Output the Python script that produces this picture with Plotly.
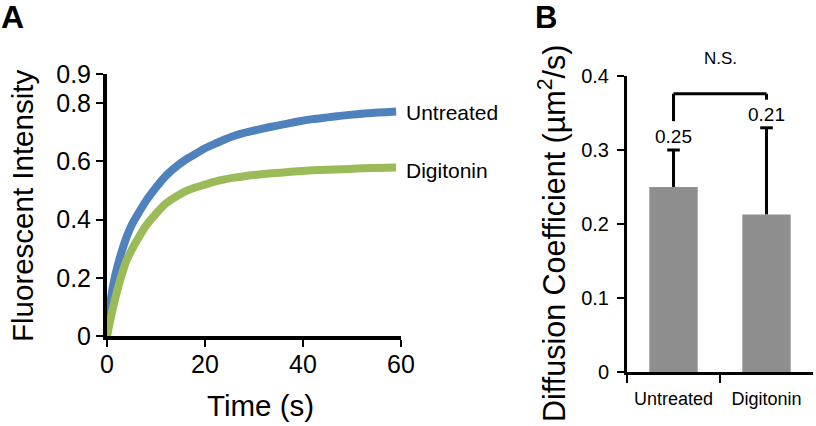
import plotly.graph_objects as go

# ---------------- data ----------------
time_s = [0, 1, 2, 3, 4, 5, 6, 8, 10, 12, 14, 16, 18, 20, 22, 24, 26, 28, 30,
          33, 36, 39, 42, 45, 48, 51, 54, 57, 59]
untreated = [0, 0.15, 0.23, 0.29, 0.34, 0.38, 0.41, 0.465, 0.51, 0.55, 0.58,
             0.605, 0.625, 0.645, 0.66, 0.675, 0.688, 0.698, 0.706, 0.717,
             0.727, 0.737, 0.745, 0.751, 0.757, 0.762, 0.766, 0.769, 0.771]
digitonin = [0, 0.08, 0.15, 0.21, 0.26, 0.295, 0.325, 0.38, 0.42, 0.455, 0.478,
             0.497, 0.51, 0.52, 0.53, 0.538, 0.544, 0.549, 0.553, 0.558, 0.562,
             0.566, 0.569, 0.571, 0.573, 0.575, 0.577, 0.578, 0.579]

a_yticks = [0, 0.2, 0.4, 0.6, 0.8, 0.9]
a_xticks = [0, 20, 40, 60]

categories = ["Untreated", "Digitonin"]
diff_coef = [0.25, 0.213]
diff_err = [0.05, 0.117]
b_yticks = [0, 0.1, 0.2, 0.3, 0.4]

FONT = "Liberation Sans, Arial, sans-serif"
BLUE = "#4F81BD"
GREEN = "#9BBB59"
W, H = 816, 426


def px(x):
    return x / W


def py(y):
    return 1 - y / H


fig = go.Figure()

# Panel A curves
fig.add_trace(go.Scatter(x=time_s, y=untreated, mode="lines",
                         line=dict(color=BLUE, width=8, shape="spline", smoothing=0.8),
                         xaxis="x", yaxis="y", showlegend=False, cliponaxis=False))
fig.add_trace(go.Scatter(x=time_s, y=digitonin, mode="lines",
                         line=dict(color=GREEN, width=8, shape="spline", smoothing=0.8),
                         xaxis="x", yaxis="y", showlegend=False, cliponaxis=False))

# Panel B bars with upward-only error bars
fig.add_trace(go.Bar(x=categories, y=diff_coef, marker=dict(color="#8E8E8E", line=dict(width=0)),
                     error_y=dict(type="data", array=diff_err,
                                  arrayminus=[0 for _ in diff_err], symmetric=False,
                                  color="black", thickness=3, width=0),
                     xaxis="x2", yaxis="y2", showlegend=False))
# caps only at the top of each error bar
fig.add_trace(go.Scatter(x=categories, y=[v + e for v, e in zip(diff_coef, diff_err)],
                         mode="markers",
                         marker=dict(symbol="line-ew", size=9,
                                     line=dict(color="black", width=3)),
                         xaxis="x2", yaxis="y2", showlegend=False, hoverinfo="skip",
                         cliponaxis=False))

annotations = []
# curve labels
annotations.append(dict(x=time_s[-1], y=untreated[-1], xref="x", yref="y",
                        text="Untreated", showarrow=False, xanchor="left",
                        yanchor="middle", xshift=8, yshift=-1,
                        font=dict(family=FONT, size=21, color="black")))
annotations.append(dict(x=time_s[-1], y=digitonin[-1], xref="x", yref="y",
                        text="Digitonin", showarrow=False, xanchor="left",
                        yanchor="middle", xshift=8, yshift=-3,
                        font=dict(family=FONT, size=21, color="black")))
# value labels
for i, (c, v, e) in enumerate(zip(categories, diff_coef, diff_err)):
    annotations.append(dict(x=i, y=v + e, xref="x2", yref="y2",
                            text=f"{v:.2f}", showarrow=False,
                            xanchor="center", yanchor="bottom", yshift=1,
                            font=dict(family=FONT, size=19, color="black")))
# N.S.
annotations.append(dict(x=0.5, y=(372 - 58) / 296, xref="x2", yref="y2 domain", text="N.S.",
                        showarrow=False, xanchor="center", yanchor="middle",
                        font=dict(family=FONT, size=17, color="black")))
# axis titles
annotations.append(dict(x=px(22), y=py(206), xref="paper", yref="paper",
                        text="Fluorescent Intensity", textangle=-90,
                        showarrow=False, xanchor="center", yanchor="middle",
                        font=dict(family=FONT, size=29.5, color="black")))
annotations.append(dict(x=px(260), y=py(405), xref="paper", yref="paper",
                        text="Time (s)", showarrow=False,
                        xanchor="center", yanchor="middle",
                        font=dict(family=FONT, size=29.5, color="black")))
annotations.append(dict(x=px(552), y=py(233), xref="paper", yref="paper",
                        text="Diffusion Coefficient (µm<sup>2</sup>/s)", textangle=-90,
                        showarrow=False, xanchor="center", yanchor="middle",
                        font=dict(family=FONT, size=30.5, color="black")))
# panel letters
annotations.append(dict(x=px(12), y=py(17), xref="paper", yref="paper",
                        text="<b>A</b>", showarrow=False,
                        xanchor="center", yanchor="middle",
                        font=dict(family=FONT, size=32, color="black")))
annotations.append(dict(x=px(546), y=py(17), xref="paper", yref="paper",
                        text="<b>B</b>", showarrow=False,
                        xanchor="center", yanchor="middle",
                        font=dict(family=FONT, size=31, color="black")))

# significance bracket
bracket_y = 0.376
shapes = [
    dict(type="line", xref="x2", yref="y2", x0=0, x1=0, y0=0.339, y1=bracket_y,
         line=dict(color="black", width=3)),
    dict(type="line", xref="x2", yref="y2", x0=0, x1=1, y0=bracket_y, y1=bracket_y,
         line=dict(color="black", width=3)),
    dict(type="line", xref="x2", yref="y2", x0=1, x1=1, y0=0.368, y1=bracket_y,
         line=dict(color="black", width=3)),
]

fig.update_layout(
    width=W, height=H,
    margin=dict(l=0, r=0, t=0, b=0, pad=0, autoexpand=False),
    paper_bgcolor="white", plot_bgcolor="white",
    font=dict(family=FONT, color="black"),
    bargap=0.48,
    annotations=annotations,
    shapes=shapes,
    xaxis=dict(domain=[px(107), px(401)], range=[0, 60], tickvals=a_xticks,
               showgrid=False, zeroline=False, showline=True, linecolor="black",
               linewidth=4, ticks="outside", ticklen=7, tickwidth=2, tickcolor="black",
               tickfont=dict(size=25, family=FONT, color="black"),
               ticklabelstandoff=-4, anchor="y", automargin=False),
    yaxis=dict(domain=[py(336), py(74)], range=[0, 0.9], tickvals=a_yticks,
               ticktext=[("0" if v == 0 else f"{v:.1f}") for v in a_yticks],
               showgrid=False, zeroline=False, showline=True, linecolor="black",
               linewidth=4, ticks="outside", ticklen=7, tickwidth=2, tickcolor="black",
               tickfont=dict(size=25, family=FONT, color="black"),
               ticklabelstandoff=0, anchor="x", automargin=False),
    xaxis2=dict(domain=[px(627), px(813)], type="category", range=[-0.5, 1.5],
                tickson="boundaries", showgrid=False, zeroline=False, showline=True,
                linecolor="black", linewidth=3, ticks="outside", ticklen=8,
                tickwidth=2, tickcolor="black",
                tickfont=dict(size=18, family=FONT, color="black"),
                ticklabelstandoff=8, anchor="y2", automargin=False),
    yaxis2=dict(domain=[py(372), py(76)], range=[0, 0.4], tickvals=b_yticks,
                ticktext=[("0" if v == 0 else f"{v:.1f}") for v in b_yticks],
                showgrid=False, zeroline=False, showline=True, linecolor="black",
                linewidth=3, ticks="outside", ticklen=7, tickwidth=2, tickcolor="black",
                tickfont=dict(size=20, family=FONT, color="black"),
                ticklabelstandoff=4, anchor="x2", automargin=False),
)

# remove the browser's default page margin so the figure sits at the window origin
fig.write_html("out.html", config={"displayModeBar": False},
               post_script="document.body.style.margin='0';document.body.style.padding='0';")
